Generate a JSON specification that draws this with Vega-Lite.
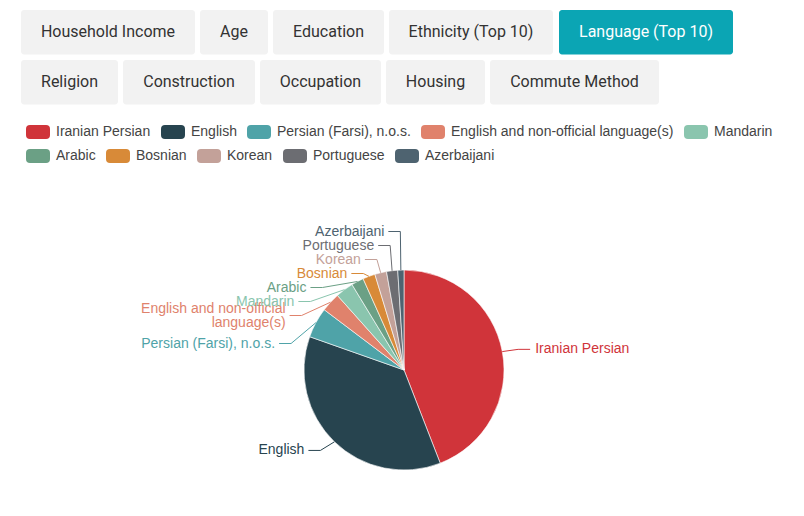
{
  "$schema": "https://vega.github.io/schema/vega-lite/v6.json",
  "width": 804,
  "height": 516,
  "autosize": "none",
  "padding": 0,
  "background": "#ffffff",
  "config": {"view": {"stroke": null}},
  "resolve": {"scale": {"x": "independent", "y": "independent"}},
  "layer": [
    {
      "data": {"values": [
        {"label": "Household Income", "row": 1, "x0": 21, "x1": 195, "active": false},
        {"label": "Age", "row": 1, "x0": 200, "x1": 268, "active": false},
        {"label": "Education", "row": 1, "x0": 273, "x1": 384, "active": false},
        {"label": "Ethnicity (Top 10)", "row": 1, "x0": 389, "x1": 553, "active": false},
        {"label": "Language (Top 10)", "row": 1, "x0": 559, "x1": 733, "active": true},
        {"label": "Religion", "row": 2, "x0": 21, "x1": 118, "active": false},
        {"label": "Construction", "row": 2, "x0": 123, "x1": 255, "active": false},
        {"label": "Occupation", "row": 2, "x0": 260, "x1": 381, "active": false},
        {"label": "Housing", "row": 2, "x0": 386, "x1": 485, "active": false},
        {"label": "Commute Method", "row": 2, "x0": 490, "x1": 659, "active": false}
      ]},
      "transform": [{"calculate": "(datum.x0 + datum.x1)/2", "as": "xm"}],
      "layer": [
        {
          "mark": {"type": "rect", "cornerRadius": 3},
          "encoding": {
            "x": {"field": "x0", "type": "quantitative", "scale": {"domain": [0, 804], "nice": false, "zero": false}, "axis": null},
            "x2": {"field": "x1"},
            "y": {"field": "row", "type": "ordinal", "scale": {"range": [10, 104.5], "paddingInner": 0.11, "paddingOuter": 0}, "axis": null},
            "color": {"condition": {"test": "datum.active", "value": "#0ba5b4"}, "value": "#f2f2f2"}
          }
        },
        {
          "mark": {"type": "text", "font": "Roboto", "fontSize": 16, "align": "center", "baseline": "middle"},
          "encoding": {
            "x": {"field": "xm", "type": "quantitative", "scale": {"domain": [0, 804], "nice": false, "zero": false}, "axis": null},
            "y": {"field": "row", "type": "ordinal", "scale": {"range": [10, 104.5], "paddingInner": 0.11, "paddingOuter": 0}, "axis": null},
            "text": {"field": "label"},
            "color": {"condition": {"test": "datum.active", "value": "#ffffff"}, "value": "#333333"}
          }
        }
      ]
    },
    {
      "data": {"values": [
        {"language": "Iranian Persian", "pct": 44.1},
        {"language": "English", "pct": 36.3},
        {"language": "Persian (Farsi), n.o.s.", "pct": 4.9},
        {"language": "English and non-official language(s)", "pct": 3.1},
        {"language": "Mandarin", "pct": 2.9},
        {"language": "Arabic", "pct": 2.0},
        {"language": "Bosnian", "pct": 2.0},
        {"language": "Korean", "pct": 1.9},
        {"language": "Portuguese", "pct": 1.8},
        {"language": "Azerbaijani", "pct": 1.0}
      ]},
      "transform": [
        {"window": [{"op": "row_number", "as": "idx"}]},
        {"joinaggregate": [{"op": "sum", "field": "pct", "as": "tot"}]},
        {"window": [{"op": "sum", "field": "pct", "as": "cum"}], "sort": [{"field": "idx"}], "frame": [null, 0]},
        {"calculate": "replace(datum.language, 'non-official ', 'non-official\\n')", "as": "lab"},
        {"calculate": "indexof(datum.lab, '\\n') >= 0 ? 28 : 14", "as": "hh"},
        {"calculate": "2*PI*(datum.cum - datum.pct/2)/datum.tot", "as": "a"},
        {"calculate": "sin(datum.a) < 0 ? -1 : 1", "as": "sgn"},
        {"calculate": "112*cos(datum.a)", "as": "ny"},
        {"window": [{"op": "sum", "field": "hh", "as": "csum"}], "groupby": ["sgn"], "sort": [{"field": "ny", "order": "descending"}], "frame": [null, 0]},
        {"calculate": "datum.csum - datum.hh", "as": "off"},
        {"calculate": "datum.ny + datum.off", "as": "v"},
        {"window": [{"op": "min", "field": "v", "as": "pmin"}], "groupby": ["sgn"], "sort": [{"field": "ny", "order": "descending"}], "frame": [null, 0]},
        {"window": [{"op": "max", "field": "v", "as": "smax"}], "groupby": ["sgn"], "sort": [{"field": "ny", "order": "descending"}], "frame": [0, null]},
        {"calculate": "(datum.pmin + datum.smax)/2 - datum.off", "as": "ly"},
        {"calculate": "datum.ly > 91 || datum.ly < -105 ? 116*sin(datum.a) : datum.sgn*sqrt(max(0, 116*116 - datum.ly*datum.ly))", "as": "ex"},
        {"calculate": "datum.ex + 12*datum.sgn", "as": "lx"},
        {"calculate": "datum.ex + (datum.sgn < 0 ? -16 : 17)", "as": "tx"},
        {"calculate": "datum.ly + (datum.hh - 14)/2", "as": "ty"},
        {"calculate": "100*sin(datum.a)", "as": "px"},
        {"calculate": "100*cos(datum.a)", "as": "py"}
      ],
      "layer": [
        {
          "mark": {"type": "arc", "outerRadius": 100, "stroke": "#ffffff", "strokeWidth": 0.6},
          "encoding": {
            "x": {"datum": 0, "type": "quantitative", "scale": {"domain": [-404, 400], "nice": false, "zero": false}, "axis": null},
            "y": {"datum": 0, "type": "quantitative", "scale": {"domain": [-146, 370], "nice": false, "zero": false}, "axis": null},
            "theta": {"field": "pct", "type": "quantitative", "stack": true},
            "order": {"field": "idx", "type": "quantitative"},
            "color": {
              "field": "language", "type": "nominal", "sort": null,
              "scale": {
                "domain": ["Iranian Persian", "English", "Persian (Farsi), n.o.s.", "English and non-official language(s)", "Mandarin", "Arabic", "Bosnian", "Korean", "Portuguese", "Azerbaijani"],
                "range": ["#d0343a", "#27444f", "#4fa3a8", "#e0826c", "#8ac5ae", "#6ba085", "#d88a38", "#c3a199", "#6c6d72", "#4e6370"]
              },
              "legend": {
                "values": ["Iranian Persian", "English", "Persian (Farsi), n.o.s.", "English and non-official language(s)", "Mandarin"],
                "orient": "none", "legendX": 26, "legendY": 120, "direction": "horizontal",
                "title": null, "padding": 0,
                "symbolType": "M-0.67,-0.583 L0.67,-0.583 Q1,-0.583 1,-0.25 L1,0.25 Q1,0.583 0.67,0.583 L-0.67,0.583 Q-1,0.583 -1,0.25 L-1,-0.25 Q-1,-0.583 -0.67,-0.583 Z",
                "symbolSize": 576, "symbolStrokeWidth": 0, "symbolOpacity": 1,
                "labelFont": "Liberation Sans", "labelFontSize": 14, "labelColor": "#444444", "labelOffset": 6, "labelLimit": 400,
                "columnPadding": 10, "rowPadding": 0
              }
            }
          }
        },
        {
          "mark": {"type": "rule", "strokeWidth": 1},
          "encoding": {
            "x": {"field": "lx", "type": "quantitative", "scale": {"domain": [-404, 400], "nice": false, "zero": false}, "axis": null},
            "x2": {"field": "ex"},
            "y": {"field": "ly", "type": "quantitative", "scale": {"domain": [-146, 370], "nice": false, "zero": false}, "axis": null},
            "y2": {"field": "ly"},
            "color": {"field": "language", "type": "nominal", "legend": null}
          }
        },
        {
          "mark": {"type": "rule", "strokeWidth": 1},
          "encoding": {
            "x": {"field": "ex", "type": "quantitative", "scale": {"domain": [-404, 400], "nice": false, "zero": false}, "axis": null},
            "x2": {"field": "px"},
            "y": {"field": "ly", "type": "quantitative", "scale": {"domain": [-146, 370], "nice": false, "zero": false}, "axis": null},
            "y2": {"field": "py"},
            "color": {"field": "language", "type": "nominal", "legend": null}
          }
        },
        {
          "transform": [{"filter": "datum.sgn < 0"}],
          "mark": {"type": "text", "align": "right", "baseline": "middle", "font": "Liberation Sans", "fontSize": 14, "lineBreak": "\n", "lineHeight": 14},
          "encoding": {
            "x": {"field": "tx", "type": "quantitative", "scale": {"domain": [-404, 400], "nice": false, "zero": false}, "axis": null},
            "y": {"field": "ty", "type": "quantitative", "scale": {"domain": [-146, 370], "nice": false, "zero": false}, "axis": null},
            "text": {"field": "lab"},
            "fill": {
              "field": "language", "type": "nominal", "sort": null,
              "scale": {
                "domain": ["Arabic", "Bosnian", "Korean", "Portuguese", "Azerbaijani", "Iranian Persian", "English", "Persian (Farsi), n.o.s.", "English and non-official language(s)", "Mandarin"],
                "range": ["#6ba085", "#d88a38", "#c3a199", "#6c6d72", "#4e6370", "#d0343a", "#27444f", "#4fa3a8", "#e0826c", "#8ac5ae"]
              },
              "legend": {
                "values": ["Arabic", "Bosnian", "Korean", "Portuguese", "Azerbaijani"],
                "orient": "none", "legendX": 26, "legendY": 144, "direction": "horizontal",
                "title": null, "padding": 0,
                "symbolType": "M-0.67,-0.583 L0.67,-0.583 Q1,-0.583 1,-0.25 L1,0.25 Q1,0.583 0.67,0.583 L-0.67,0.583 Q-1,0.583 -1,0.25 L-1,-0.25 Q-1,-0.583 -0.67,-0.583 Z",
                "symbolSize": 576, "symbolStrokeWidth": 0, "symbolOpacity": 1,
                "labelFont": "Liberation Sans", "labelFontSize": 14, "labelColor": "#444444", "labelOffset": 6, "labelLimit": 400,
                "columnPadding": 10, "rowPadding": 0
              }
            }
          }
        },
        {
          "transform": [{"filter": "datum.sgn > 0"}],
          "mark": {"type": "text", "align": "left", "baseline": "middle", "font": "Liberation Sans", "fontSize": 14, "lineBreak": "\n", "lineHeight": 14},
          "encoding": {
            "x": {"field": "tx", "type": "quantitative", "scale": {"domain": [-404, 400], "nice": false, "zero": false}, "axis": null},
            "y": {"field": "ty", "type": "quantitative", "scale": {"domain": [-146, 370], "nice": false, "zero": false}, "axis": null},
            "text": {"field": "lab"},
            "fill": {"field": "language", "type": "nominal", "legend": null}
          }
        }
      ]
    }
  ]
}
